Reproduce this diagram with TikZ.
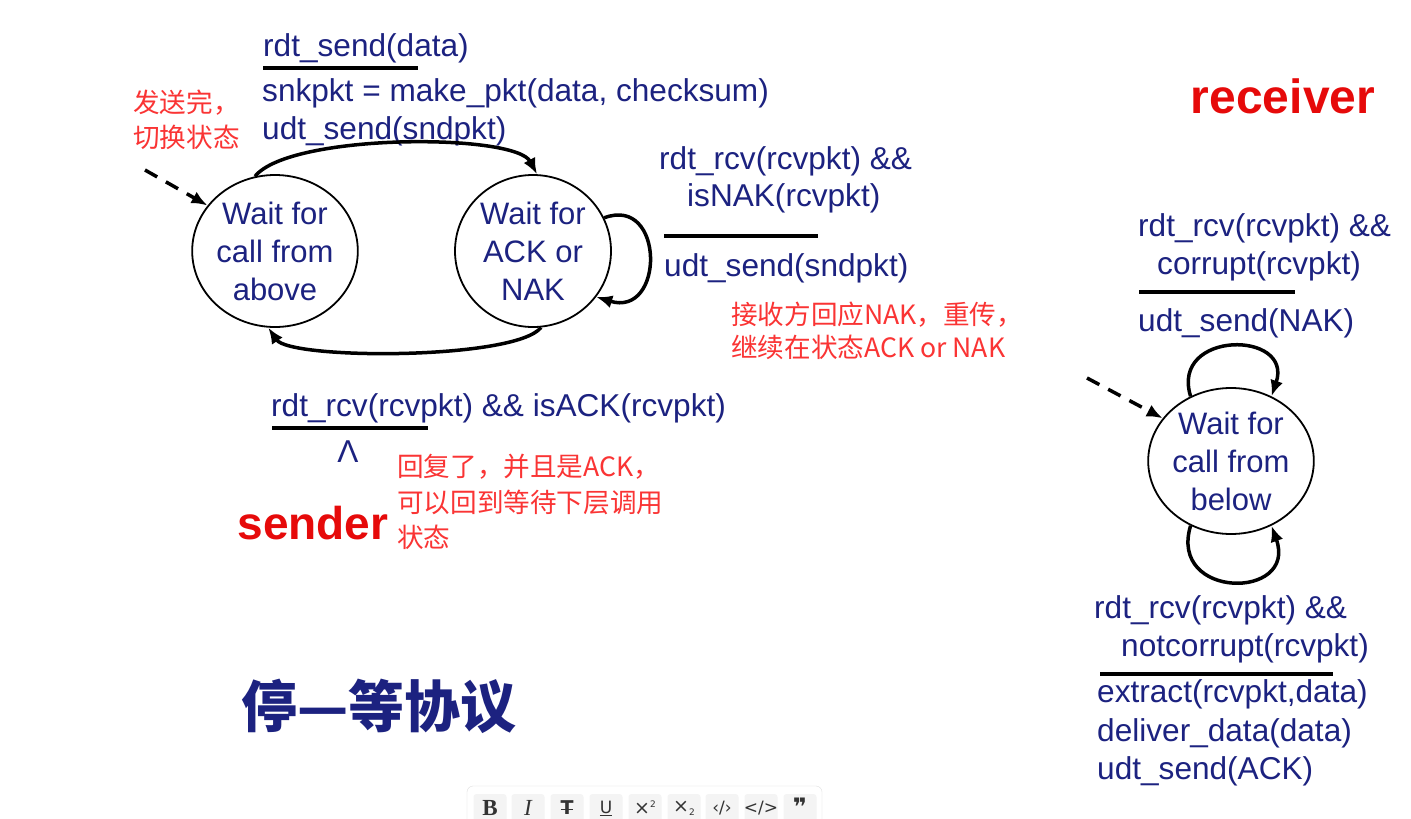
\documentclass[tikz,border=0pt]{standalone}
\usepackage{fontspec}
\setmainfont{Liberation Sans}
\newfontfamily\cjk{Noto Sans CJK SC}
\newfontfamily\symfont{DejaVu Sans}
\newfontfamily\btnserif{Liberation Serif}
\usepackage{tikz}
\usetikzlibrary{shapes.geometric,arrows.meta,positioning,calc}
\definecolor{slideblue}{RGB}{28,34,128}
\definecolor{notered}{RGB}{250,52,52}
\definecolor{rolered}{RGB}{230,10,10}

\begin{document}
\begin{tikzpicture}[x=1pt, y=1pt,
    state/.style={ellipse, draw=black, line width=1.8pt, minimum width=156pt, minimum height=152pt, inner sep=0pt, align=center, text=slideblue, font=\fontsize{31}{38}\selectfont},
    lbl/.style={anchor=base west, inner sep=0pt, text=slideblue, font=\fontsize{31.6}{38}\selectfont},
    note/.style={anchor=west, inner sep=0pt, text=notered, font=\cjk\fontsize{26.6}{32}\selectfont},
    role/.style={anchor=base, inner sep=0pt, text=rolered, font=\bfseries},
    bar/.style={line width=4pt},
    trans/.style={line width=3.5pt, -{Latex[length=16pt,width=13pt]}},
    initarr/.style={line width=3.5pt, dash pattern=on 14pt off 10pt, -{Latex[length=16pt,width=13pt]}},
    btnglyph/.style={inner sep=0pt, text=black!80, font=\symfont\fontsize{19}{19}\selectfont}
]
    \useasboundingbox[fill=white] (0,0) rectangle (1411,-819);

    % Sender states
    \node[state] (s_above) at (275,-251) {Wait for\\call from\\above};
    \node[state] (s_acknak) at (533,-251) {Wait for\\ACK or\\NAK};
    \coordinate (s_init) at (145,-170);

    % Sender labels
    \node[lbl] (s_ev1) at (263,-56) {rdt\_send(data)};
    \node[lbl] (s_act1a) at (262,-101) {snkpkt = make\_pkt(data, checksum)};
    \node[lbl] (s_act1b) at (262,-139) {udt\_send(sndpkt)};
    \draw[bar] (263,-68) -- (418,-68);

    \node[lbl] (s_ev2a) at (659,-169) {rdt\_rcv(rcvpkt) \&\&};
    \node[lbl] (s_ev2b) at (687,-206) {isNAK(rcvpkt)};
    \node[lbl] (s_act2) at (664,-276) {udt\_send(sndpkt)};
    \draw[bar] (664,-236) -- (818,-236);

    \node[lbl] (s_ev3) at (271,-416) {rdt\_rcv(rcvpkt) \&\& isACK(rcvpkt)};
    \node[lbl, anchor=base] (s_act3) at (348,-462) {Λ};
    \draw[bar] (272,-428) -- (428,-428);

    % Sender transitions
    \draw[initarr] (s_init) -- (s_above.146);
    \draw[trans] (s_above.105) .. controls (290,-133) and (515,-133) .. (s_acknak.87);
    \draw[trans] (s_acknak.276) .. controls (515,-360) and (290,-360) .. (s_above.265);
    \draw[trans] (s_acknak.25) .. controls (665,-195) and (665,-318) .. (s_acknak.-36);

    % Receiver state
    \node[state, minimum width=155pt, minimum height=146pt] (r_below) at (1231,-461) {Wait for\\call from\\below};
    \coordinate (r_init) at (1087,-378);

    % Receiver labels
    \node[lbl] (r_ev1a) at (1138,-236) {rdt\_rcv(rcvpkt) \&\&};
    \node[lbl] (r_ev1b) at (1157,-274) {corrupt(rcvpkt)};
    \node[lbl] (r_act1) at (1138,-331) {udt\_send(NAK)};
    \draw[bar] (1139,-292) -- (1295,-292);

    \node[lbl] (r_ev2a) at (1094,-618) {rdt\_rcv(rcvpkt) \&\&};
    \node[lbl] (r_ev2b) at (1121,-656) {notcorrupt(rcvpkt)};
    \node[lbl] (r_act2a) at (1097,-702) {extract(rcvpkt,data)};
    \node[lbl] (r_act2b) at (1097,-741) {deliver\_data(data)};
    \node[lbl] (r_act2c) at (1097,-779) {udt\_send(ACK)};
    \draw[bar] (1100,-674) -- (1333,-674);

    % Receiver transitions
    \draw[initarr] (r_init) -- (r_below.148);
    \draw[trans] (r_below.122) .. controls (1170,-330) and (1294,-330) .. (r_below.58);
    \draw[trans] (r_below.238) .. controls (1168,-600) and (1298,-600) .. (r_below.302);

    % Roles and title
    \node[role, font=\bfseries\fontsize{46}{46}\selectfont] (sender) at (313,-539) {sender};
    \node[role, font=\bfseries\fontsize{48}{48}\selectfont] (receiver) at (1283,-113) {receiver};
    \node[inner sep=0pt, text=slideblue, font=\cjk\bfseries\fontsize{56}{56}\selectfont] (title) at (379,-706) {停—等协议};

    % Notes
    \node[note] (n_send1) at (133,-103) {发送完，};
    \node[note] (n_send2) at (133,-137) {切换状态};
    \node[note] (n_nak1) at (731,-315) {接收方回应NAK，重传，};
    \node[note] (n_nak2) at (731,-347) {继续在状态ACK or NAK};
    \node[note] (n_ack1) at (397,-467) {回复了，并且是ACK，};
    \node[note] (n_ack2) at (397,-502) {可以回到等待下层调用};
    \node[note] (n_ack3) at (397,-537) {状态};

    % Editor toolbar
    \draw[draw=gray!25, fill=white, rounded corners=6pt] (467,-786) rectangle (822,-836);
    \foreach \x/\i in {490/1, 528/2, 567/3, 606/4, 645/5, 684/6, 722/7, 761/8, 800/9} {
        \fill[gray!9, rounded corners=3pt] (\x-16.5,-794) rectangle (\x+16.5,-830);
    }
    \node[btnglyph, font=\btnserif\bfseries\fontsize{23}{23}\selectfont] (tb1) at (490,-808) {B};
    \node[btnglyph, font=\btnserif\itshape\fontsize{23}{23}\selectfont] (tb2) at (528,-808) {I};
    \node[btnglyph, font=\symfont\bfseries\fontsize{19}{19}\selectfont] (tb3) at (567,-808) {\rlap{T}\raisebox{4.5pt}{\rule{0.68em}{1.8pt}}};
    \node[btnglyph, font=\symfont\fontsize{17}{17}\selectfont] (tb4) at (606,-808) {\underline{U}};
    \node[btnglyph] (tb5) at (645,-808) {×\raisebox{7pt}{\fontsize{9}{9}\selectfont 2}};
    \node[btnglyph] (tb6) at (684,-808) {×\raisebox{-3pt}{\fontsize{9}{9}\selectfont 2}};
    \node[btnglyph, font=\symfont\fontsize{17}{17}\selectfont] (tb7) at (722,-808) {‹/›};
    \node[btnglyph, font=\symfont\fontsize{17}{17}\selectfont] (tb8) at (761,-808) {</>};
    \node[btnglyph, font=\symfont\bfseries\fontsize{24}{24}\selectfont] (tb9) at (800,-807) {❞};

\end{tikzpicture}
\end{document}
